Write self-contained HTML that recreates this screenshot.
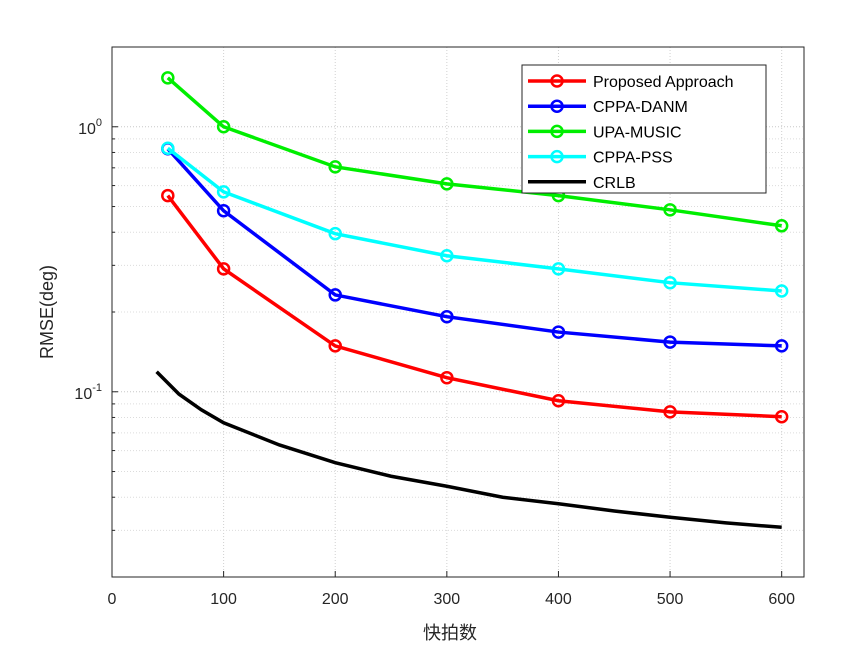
<!DOCTYPE html>
<html><head><meta charset="utf-8"><style>
body{margin:0;background:#fff}
svg{display:block;font-family:"Liberation Sans","Noto Sans CJK SC",sans-serif}
</style></head><body>
<svg id="chart" width="865" height="649" viewBox="0 0 865 649" xmlns="http://www.w3.org/2000/svg">
<rect width="865" height="649" fill="#fff"/>
<g id="grid"></g>
<g id="series"></g>
<rect x="112" y="47" width="692" height="530" fill="none" stroke="#262626" stroke-width="1"/>
<g id="ticks" font-size="16" fill="#262626"></g>
<text x="450" y="639" font-size="18" text-anchor="middle" fill="#262626">快拍数</text>
<text transform="translate(53,312) rotate(-90)" font-size="18" text-anchor="middle" fill="#262626">RMSE(deg)</text>
<g id="legend"></g>
</svg>
<script>
const xTicks=[0,100,200,300,400,500,600];
const snaps=[50,100,200,300,400,500,600];
const proposed=[0.55,0.291,0.149,0.113,0.0925,0.084,0.0805];
const danm=[0.826,0.482,0.232,0.192,0.168,0.154,0.149];
const music=[1.53,1.0,0.706,0.609,0.55,0.486,0.423];
const pss=[0.83,0.568,0.395,0.326,0.291,0.258,0.24];
const crlbX=[40,60,80,100,150,200,250,300,350,400,450,500,550,600];
const crlbY=[0.119,0.098,0.0855,0.0764,0.063,0.054,0.048,0.044,0.040,0.0378,0.0355,0.0336,0.032,0.0308];
const names=["Proposed Approach","CPPA-DANM","UPA-MUSIC","CPPA-PSS","CRLB"];
const colors=["#ff0000","#0000ff","#00ee00","#00ffff","#000000"];

const NS="http://www.w3.org/2000/svg";
const X0=112,X1=804,xMin=0,xMax=620;
const Y0=577,Y1=47,yMin=0.02,yMax=2;
const sx=v=>X0+(v-xMin)/(xMax-xMin)*(X1-X0);
const sy=v=>Y0-(Math.log10(v)-Math.log10(yMin))/(Math.log10(yMax)-Math.log10(yMin))*(Y0-Y1);
function mk(tag,attrs,parent){const e=document.createElementNS(NS,tag);for(const k in attrs)e.setAttribute(k,attrs[k]);parent.appendChild(e);return e;}
const grid=document.getElementById('grid'),ticks=document.getElementById('ticks'),ser=document.getElementById('series'),leg=document.getElementById('legend');

xTicks.forEach(t=>{
  const x=sx(t);
  if(t>0){const l=mk('line',{x1:x,x2:x,y1:Y1,y2:Y0,stroke:'#d0d0d0','stroke-dasharray':'1,2'},grid);
  
  }
  mk('line',{x1:x,x2:x,y1:Y0,y2:Y0-6,stroke:'#262626'},ticks);
  const tx=mk('text',{x:x,y:Y0+27,'text-anchor':'middle'},ticks);tx.textContent=t;
  
  
});
const minors=[];
for(const d of [0.01,0.1,1])for(let m=1;m<=9;m++){const v=+(m*d).toFixed(3);if(v>=yMin&&v<=yMax)minors.push(v);}
minors.forEach(v=>{
  const y=sy(v),major=(v===0.1||v===1);
  const l=mk('line',{x1:X0,x2:X1,y1:y,y2:y,stroke:major?'#c8c8c8':'#dcdcdc','stroke-dasharray':'1,2'},grid);
  
  
  mk('line',{x1:X0,x2:X0+(major?6:3),y1:y,y2:y,stroke:'#262626'},ticks);
});
[[0.1,'-1'],[1,'0']].forEach(([v,e])=>{
  const t=mk('text',{x:X0-10,y:sy(v)+7,'text-anchor':'end'},ticks);
  
  
  t.innerHTML='10<tspan dy="-8" font-size="11">'+e+'</tspan>';
});
const all=[proposed,danm,music,pss];
const snames=['proposed','danm','music','pss'];
all.forEach((arr,i)=>{
  const pts=snaps.map((s,j)=>sx(s)+','+sy(arr[j])).join(' ');
  const pl=mk('polyline',{points:pts,fill:'none',stroke:colors[i],'stroke-width':3.5},ser);
  
  
  snaps.forEach((s,j)=>{
    const c=mk('circle',{cx:sx(s),cy:sy(arr[j]),r:5.5,fill:'none',stroke:colors[i],'stroke-width':2.5},ser);
    
    
  });
});
const cr=mk('polyline',{points:crlbX.map((s,j)=>sx(s)+','+sy(crlbY[j])).join(' '),fill:'none',stroke:'#000','stroke-width':3.5},ser);



const lb=mk('rect',{x:522,y:65,width:244,height:128,fill:'#fff',stroke:'#262626'},leg);


names.forEach((n,i)=>{
  const y=81+i*25.2;
  const g=mk('g',{},leg);
  
  
  mk('line',{x1:528,x2:586,y1:y,y2:y,stroke:colors[i],'stroke-width':3.5},g);
  if(i<4)mk('circle',{cx:557,cy:y,r:5.5,fill:'none',stroke:colors[i],'stroke-width':2.5},g);
  const t=mk('text',{x:593,y:y+6,'font-size':16,fill:'#000'},g);t.textContent=n;
});
</script>
</body></html>
